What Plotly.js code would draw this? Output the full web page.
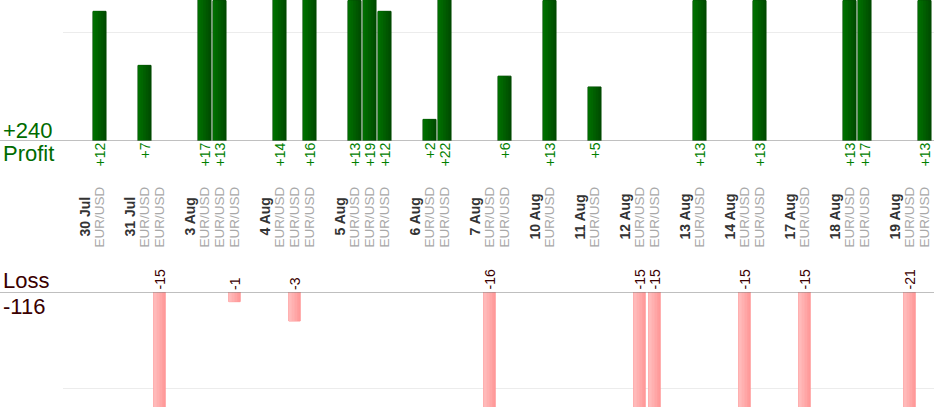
<!DOCTYPE html>
<html>
<head>
<meta charset="utf-8">
<script src="https://cdn.plot.ly/plotly-3.0.1.min.js"></script>
<style>
html, body { margin: 0; padding: 0; background: #fff; }
#chart { width: 934px; height: 420px; }
</style>
</head>
<body>
<div id="chart"></div>
<script>
// trading days and the result of each trade on that day (pips)
const days = ['30 Jul', '31 Jul', '3 Aug', '4 Aug', '5 Aug', '6 Aug', '7 Aug', '10 Aug', '11 Aug', '12 Aug', '13 Aug', '14 Aug', '17 Aug', '18 Aug', '19 Aug'];
const symbol = 'EUR/USD';
const dayResults = [
    [12],
    [7, -15],
    [17, 13, -1],
    [14, -3, 16],
    [13, 19, 12],
    [2, 22],
    [-16, 6],
    [13],
    [5],
    [-15, -15],
    [13],
    [-15, 13],
    [-15],
    [13, 17],
    [-21, 13],
];
const profitTitle = 'Profit';
const lossTitle = 'Loss';

const FONT = "Arial, 'Liberation Sans', sans-serif";
const W = 934, H = 420;
const py = (px) => (H - px) / H;
const SLOT0 = 84.5, SLOTW = 15;

// one slot for the day label, one per trade, then an empty slot
let dayPos = [], tradePos = [], tradeVal = [];
let slot = 0;
days.forEach((d, i) => {
    dayPos.push(slot);
    slot++;
    dayResults[i].forEach((v) => {
        tradePos.push(slot);
        tradeVal.push(v);
        slot++;
    });
    slot++;
});

const profitX = tradePos.filter((p, i) => tradeVal[i] > 0);
const profitY = tradeVal.filter((v) => v > 0);
const lossX = tradePos.filter((p, i) => tradeVal[i] < 0);
const lossY = tradeVal.filter((v) => v < 0);

const totalProfit = profitY.reduce((a, v) => a + v, 0);
const totalLoss = lossY.reduce((a, v) => a + v, 0);

// bars drawn as left-anchored stripes, narrower and lighter each time,
// to fake the horizontal gradient
const stripes = (x, y, yaxis, width, colors, lineColor) => {
    const step = width / colors.length;
    return colors.map((c, i) => ({
        type: 'bar',
        x: x,
        y: y,
        width: width - step * i,
        offset: -width / 2,
        xaxis: 'x',
        yaxis: yaxis,
        marker: {
            color: c,
            line: i === 0 ? { color: lineColor, width: 1 } : { width: 0 },
        },
        hoverinfo: 'none',
    }));
};

const data = [].concat(
    stripes(profitX, profitY, 'y', 0.87, ['#004e00', '#005600', '#005e00', '#006600', '#006e00'], '#004800'),
    stripes(lossX, lossY, 'y2', 0.76, ['#ff9c9c', '#ffa6a6', '#ffb0b0', '#ffbaba'], '#ff9494'),
);

let annotations = [];

profitX.reduce((acc, x, i) => {
    acc.push({
        x: x, y: 0, xref: 'x', yref: 'y',
        text: '+' + profitY[i],
        textangle: -90, xanchor: 'center', yanchor: 'top',
        showarrow: false,
        font: { family: FONT, size: 14, color: '#008000' },
    });
    return acc;
}, annotations);

lossX.reduce((acc, x, i) => {
    acc.push({
        x: x, y: 0, xref: 'x', yref: 'y2',
        text: String(lossY[i]),
        textangle: -90, xanchor: 'center', yanchor: 'bottom',
        showarrow: false,
        font: { family: FONT, size: 14, color: '#3a0000' },
    });
    return acc;
}, annotations);

dayPos.reduce((acc, x, i) => {
    acc.push({
        x: x, y: py(217), xref: 'x', yref: 'paper',
        text: '<b>' + days[i] + '</b>',
        textangle: -90, xanchor: 'center', yanchor: 'middle',
        showarrow: false,
        font: { family: FONT, size: 14, color: '#333333' },
    });
    return acc;
}, annotations);

tradePos.reduce((acc, x) => {
    acc.push({
        x: x, y: py(217), xref: 'x', yref: 'paper',
        text: symbol,
        textangle: -90, xanchor: 'center', yanchor: 'middle',
        showarrow: false,
        font: { family: FONT, size: 13.5, color: '#a8a8a8' },
    });
    return acc;
}, annotations);

const sideLabel = (text, ypx, color) => ({
    x: 0, y: py(ypx), xref: 'paper', yref: 'paper',
    text: text, xanchor: 'left', yanchor: 'middle', xshift: 1,
    showarrow: false,
    font: { family: FONT, size: 22, color: color },
});

annotations.push(
    sideLabel('+' + totalProfit, 130.5, '#006b00'),
    sideLabel(profitTitle, 153, '#006b00'),
    sideLabel(lossTitle, 280, '#3a0000'),
    sideLabel(String(totalLoss), 306, '#3a0000'),
);

const layout = {
    width: W,
    height: H,
    margin: { l: 0, r: 0, t: 0, b: 0 },
    paper_bgcolor: '#ffffff',
    plot_bgcolor: 'rgba(0,0,0,0)',
    showlegend: false,
    barmode: 'overlay',
    xaxis: {
        domain: [63 / W, 1],
        range: [(63 - SLOT0) / SLOTW, (W - SLOT0) / SLOTW],
        showgrid: false, zeroline: false, showticklabels: false, ticks: '',
    },
    yaxis: {
        domain: [py(141), 1],
        range: [0, 13.05],
        tickvals: [10], showticklabels: false, ticks: '',
        gridcolor: '#ececec', zeroline: false,
    },
    yaxis2: {
        domain: [py(407), py(292)],
        range: [-11.9, 0],
        anchor: 'x',
        tickvals: [-10], showticklabels: false, ticks: '',
        gridcolor: '#ececec', zeroline: false,
    },
    shapes: [
        { type: 'line', xref: 'paper', yref: 'y', x0: 0, x1: 1, y0: 0, y1: 0, line: { color: '#808080', width: 1 } },
        { type: 'line', xref: 'paper', yref: 'y2', x0: 0, x1: 1, y0: 0, y1: 0, line: { color: '#808080', width: 1 } },
    ],
    annotations: annotations,
};

Plotly.newPlot('chart', data, layout, { displayModeBar: false, staticPlot: true });
</script>
</body>
</html>
